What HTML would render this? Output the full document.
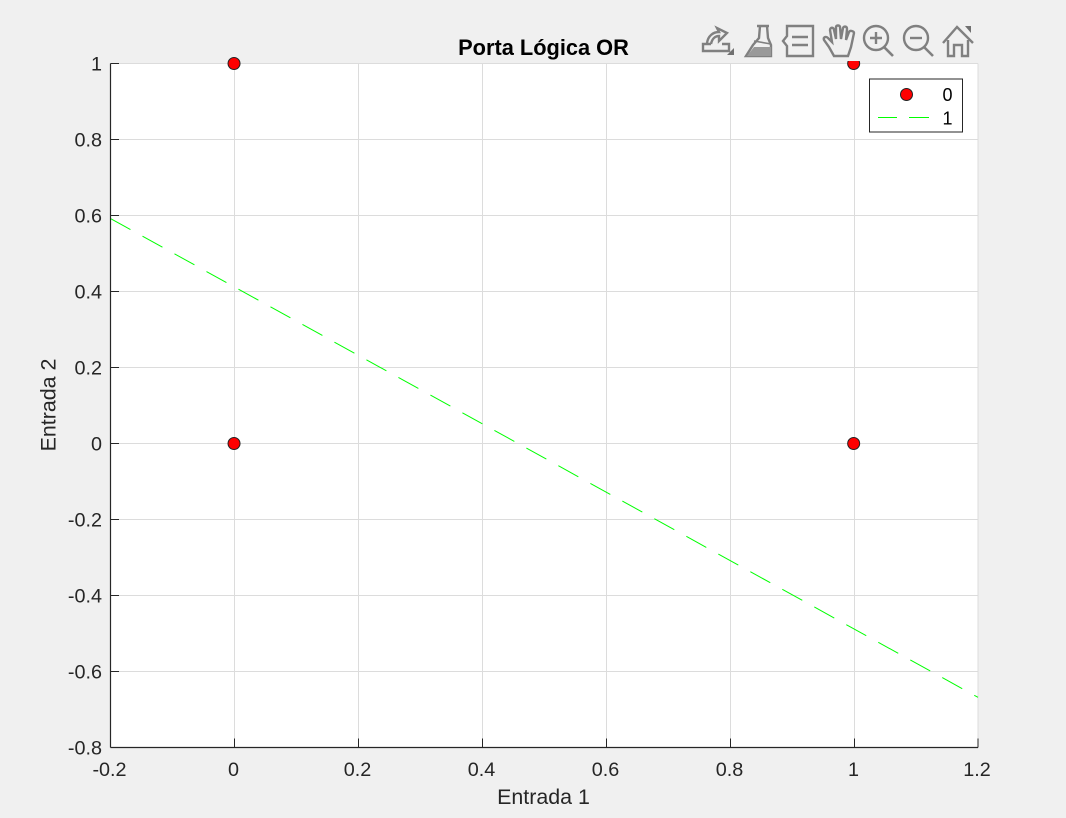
<!DOCTYPE html>
<html lang="pt">
<head>
<meta charset="utf-8">
<title>Porta Lógica OR</title>
<style>
html,body{margin:0;padding:0;background:#f0f0f0;}
svg{display:block;font-family:"Liberation Sans",Arial,sans-serif;}
</style>
</head>
<body>
<svg id="chart" xmlns="http://www.w3.org/2000/svg" width="1066" height="818" viewBox="0 0 1066 818">
  <rect x="0" y="0" width="1066" height="818" fill="#f0f0f0"/>
  <rect x="110.5" y="63.5" width="867.5" height="684" fill="#ffffff"/>
  <g id="grid"></g>
  <g id="series"></g>
  <g id="axes"></g>
  <rect x="696" y="20" width="282" height="41" fill="#f0f0f0"/>
  <text x="543.5" y="55" text-anchor="middle" font-size="21.8" font-weight="bold" fill="#000">Porta Lógica OR</text>
  <text x="543.5" y="804" text-anchor="middle" font-size="21.4" fill="#262626">Entrada 1</text>
  <text transform="translate(55.5,405) rotate(-90)" text-anchor="middle" font-size="21.4" fill="#262626">Entrada 2</text>

  <g>
    <rect x="869.5" y="79" width="93" height="53" fill="#fff" stroke="#262626" stroke-width="1"/>
    <circle cx="906.5" cy="94.5" r="6" fill="#ff0000" stroke="#222" stroke-width="1"/>
    <text x="942.5" y="101" font-size="18" fill="#000">0</text>
    <line x1="878" y1="117.5" x2="897" y2="117.5" stroke="#00ff00" stroke-width="1"/>
    <line x1="909" y1="117.5" x2="929" y2="117.5" stroke="#00ff00" stroke-width="1"/>
    <text x="942.5" y="124.5" font-size="18" fill="#000">1</text>
  </g>

  <g fill="none" stroke="#808080" stroke-width="2.4">
    <g>
      <path d="M711 44 L703 44 L703 51 L729 51 L729 44 L722 44"/>
      <path d="M707 43 C708 36 713 32 719 32 L717 28 L727 33 L719 41 L719 36 C715 36 712 39 711 44"/>
      <path d="M727 55 L734 55 L734 48 Z" fill="#707070" stroke="none"/>
    </g>
    <g>
      <path d="M757 26 L769 26 M760 26 L759 38 L753 45 L746 56 L771 56 L771 45 L768 38 L767 26"/>
      <path d="M747 56 L754 47 L771 47 L771 56 Z" fill="#999999" stroke="none"/>
      <path d="M754 41 L771 44" stroke-width="1.6"/>
    </g>
    <g>
      <path d="M787 26 L813 26 L813 56 L787 56 L787 46 L783 41 L787 36 Z"/>
      <path d="M792 37 L808 37 M792 45 L808 45" stroke-width="2.6"/>
    </g>
    <g>
      <path d="M834 56 L829 47 L824 40 C823 37 826 36 828 38 L832 42 L830 30 C830 27 834 27 834 30 L836 39 L836 27 C836 25 840 25 840 27 L841 39 L843 28 C844 26 847 26 847 29 L846 40 L849 32 C850 30 854 31 854 33 L851 47 L848 56 Z"/>
    </g>
    <g>
      <circle cx="876" cy="38" r="12"/>
      <path d="M884 47 L893 56" stroke-width="2.6"/>
      <path d="M870 38 L882 38 M876 32 L876 44"/>
    </g>
    <g>
      <circle cx="916" cy="38" r="12"/>
      <path d="M924 47 L933 56" stroke-width="2.6"/>
      <path d="M910 38 L922 38"/>
    </g>
    <g>
      <path d="M943 43 L957 27 L973 43"/>
      <path d="M948 40 L948 56 L954 56 L954 45 L962 45 L962 56 L968 56 L968 40"/>
      <path d="M965 26 L971 26 L971 33 Z" fill="#707070" stroke="none"/>
    </g>
  </g>
</svg>
<script>
var xTicks = [-0.2, 0, 0.2, 0.4, 0.6, 0.8, 1, 1.2];
var yTicks = [-0.8, -0.6, -0.4, -0.2, 0, 0.2, 0.4, 0.6, 0.8, 1];
var pointsX = [0, 0, 1, 1];
var pointsY = [0, 1, 0, 1];
var boundaryX = [-0.2, 1.2];
var boundaryY = [0.592, -0.668];

var NS = 'http://www.w3.org/2000/svg';
var plotLeft = 110.5, plotRight = 978, plotTop = 63.5, plotBottom = 747.5;
var xMin = -0.2, xMax = 1.2, yMin = -0.8, yMax = 1;

function sx(v) { return plotLeft + (v - xMin) / (xMax - xMin) * (plotRight - plotLeft); }
function sy(v) { return plotBottom - (v - yMin) / (yMax - yMin) * (plotBottom - plotTop); }
function make(tag, attrs, parent) {
  var el = document.createElementNS(NS, tag);
  for (var k in attrs) { el.setAttribute(k, attrs[k]); }
  parent.appendChild(el);
  return el;
}

var grid = document.getElementById('grid');
var axes = document.getElementById('axes');
var series = document.getElementById('series');

xTicks.forEach(function (t) {
  var px = Math.round(sx(t)) + 0.5;
  if (t === xMin) { px = plotLeft; }
  if (t === xMax) { px = plotRight; }
  var g = make('line', { x1: px, y1: plotTop, x2: px, y2: plotBottom, stroke: '#dcdcdc', 'stroke-width': 1 }, grid);
  
  
  var m = make('line', { x1: px, y1: plotBottom, x2: px, y2: plotBottom - 9, stroke: '#262626', 'stroke-width': 1 }, axes);
  
  
  var l = make('text', { x: px - 1, y: 776, 'text-anchor': 'middle', 'font-size': 19.8, fill: '#262626' }, axes);
  
  
  l.textContent = String(t);
});

yTicks.forEach(function (t) {
  var py = Math.round(sy(t) - 0.5) + 0.5;
  var g = make('line', { x1: plotLeft, y1: py, x2: plotRight, y2: py, stroke: '#dcdcdc', 'stroke-width': 1 }, grid);
  
  
  var m = make('line', { x1: plotLeft, y1: py, x2: plotLeft + 8.5, y2: py, stroke: '#262626', 'stroke-width': 1 }, axes);
  
  
  var l = make('text', { x: 102, y: py + 7, 'text-anchor': 'end', 'font-size': 19.8, fill: '#262626' }, axes);
  
  
  l.textContent = String(t);
});

var axisX = make('line', { x1: plotLeft, y1: plotBottom, x2: plotRight, y2: plotBottom, stroke: '#262626', 'stroke-width': 1.2 }, axes);


var axisY = make('line', { x1: plotLeft, y1: plotTop, x2: plotLeft, y2: plotBottom, stroke: '#262626', 'stroke-width': 1.2 }, axes);



var boundary = make('line', {
  x1: sx(boundaryX[0]), y1: sy(boundaryY[0]),
  x2: sx(boundaryX[1]), y2: sy(boundaryY[1]),
  stroke: '#00ff00', 'stroke-width': 1, 'stroke-dasharray': '22.8 13.74'
}, series);



pointsX.forEach(function (x, i) {
  var c = make('circle', { cx: sx(x) - 0.4, cy: sy(pointsY[i]), r: 6, fill: '#ff0000', stroke: '#222222', 'stroke-width': 1 }, series);
  
  
});
</script>
</body>
</html>
